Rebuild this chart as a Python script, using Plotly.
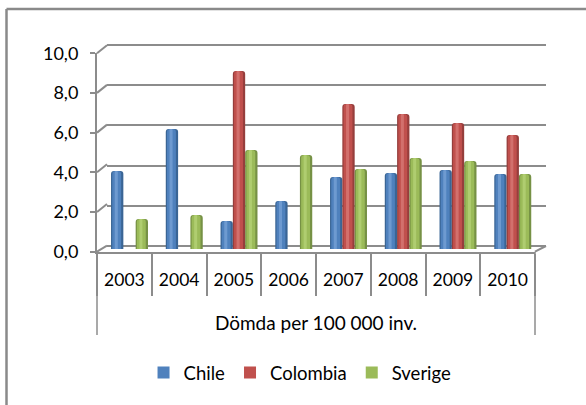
import plotly.graph_objects as go

years = ["2003", "2004", "2005", "2006", "2007", "2008", "2009", "2010"]
chile = [3.9, 6.0, 1.4, 2.4, 3.6, 3.8, 3.95, 3.75]
colombia = [None, None, 8.9, None, 7.25, 6.75, 6.3, 5.7]
sverige = [1.5, 1.7, 4.95, 4.7, 4.0, 4.55, 4.4, 3.75]
series = [("Chile", chile, "#4F81BD", "#3A6595", "#6E9AD0", -0.335),
          ("Colombia", colombia, "#C0504D", "#963E3C", "#D2706D", -0.11),
          ("Sverige", sverige, "#9BBB59", "#769145", "#AFCD70", 0.115)]

W, H = 586, 405
FONT = "Lato"
GREY = "#8C8C8C"
def fx(p): return p / W
def fy(p): return 1 - p / H

fig = go.Figure()
fig.add_trace(go.Scatter(x=[0], y=[0], mode="markers", marker=dict(opacity=0),
                         showlegend=False, hoverinfo="skip", xaxis="x", yaxis="y"))
fig.add_trace(go.Bar(x=years, y=[0] * 8, showlegend=False, hoverinfo="skip",
                     marker=dict(opacity=0), xaxis="x2", yaxis="y2"))
BW = 0.225
for name, vals, col, dark, light, off in series:
    fig.add_trace(go.Bar(x=years, y=vals, width=BW, offset=off, showlegend=False, hoverinfo="skip",
                         marker=dict(color=dark, cornerradius=3, line_width=0), xaxis="x3", yaxis="y3"))
    fig.add_trace(go.Bar(x=years, y=vals, width=BW * 0.72, offset=off + BW * 0.1, showlegend=False,
                         hoverinfo="skip", marker=dict(color=col, cornerradius=3, line_width=0),
                         xaxis="x3", yaxis="y3"))
    # square-topped inner bar carries the legend swatch
    fig.add_trace(go.Bar(x=years, y=vals, name=name, width=BW * 0.25, offset=off + BW * 0.3,
                         showlegend=True, marker=dict(color=col, line_width=0),
                         xaxis="x3", yaxis="y3"))
    fig.add_trace(go.Bar(x=years, y=vals, width=BW * 0.25, offset=off + BW * 0.3, showlegend=False,
                         hoverinfo="skip", marker=dict(color=light, cornerradius=2, line_width=0),
                         xaxis="x3", yaxis="y3"))

def line(x0, y0, x1, y1, w=2, c=GREY):
    return dict(type="line", xref="paper", yref="paper", x0=fx(x0), y0=fy(y0), x1=fx(x1), y1=fy(y1),
                line=dict(color=c, width=w), layer="below")

shapes = [line(6.5, 9, 586, 9, 2.5, "#8A8A8A"), line(6.5, 9, 6.5, 405, 2.5, "#8A8A8A")]
for i in range(6):
    yf = 251.7 - i * 39.7
    shapes.append(line(97, yf, 107, yf - 6 if i == 0 else yf - 8))
shapes.append(line(535, 251.7, 546, 246))
shapes.append(line(97, 251.7, 97, 335, 1.5))
shapes.append(line(535, 251.7, 535, 335, 1.5))

fig.update_layout(
    width=W, height=H, autosize=False, margin=dict(l=0, r=0, t=0, b=0, autoexpand=False),
    paper_bgcolor="white", plot_bgcolor="rgba(0,0,0,0)", barmode="overlay",
    separators=",.", font=dict(family=FONT, size=16, color="black"), shapes=shapes,
    xaxis=dict(domain=[fx(107), fx(546)], range=[0, 1], visible=False, anchor="y"),
    yaxis=dict(domain=[fy(250), fy(41)], range=[-0.2, 10.2], dtick=2, showgrid=True, gridcolor=GREY, gridwidth=2,
               zeroline=False, showticklabels=False, ticks="", anchor="x"),
    xaxis2=dict(domain=[fx(97), fx(535)], type="category", categoryorder="array", categoryarray=years,
                range=[-0.5, 7.5], anchor="y2", showline=True, linecolor=GREY, linewidth=2,
                tickson="boundaries", ticks="outside", ticklen=42, tickcolor=GREY, tickwidth=1.5,
                ticklabelstandoff=11, tickfont=dict(size=17.5), showgrid=False,
                title=dict(text="Dömda per 100 000 inv.", standoff=28, font=dict(size=19))),
    yaxis2=dict(domain=[fy(251.7), fy(53.3)], range=[0, 10], dtick=2, tickformat=".1f", anchor="x2",
                showline=True, linecolor=GREY, linewidth=2, ticks="outside", ticklen=5, tickcolor=GREY,
                tickwidth=2, showgrid=False, zeroline=False, tickfont=dict(size=18), ticklabelstandoff=8),
    xaxis3=dict(domain=[fx(102), fx(540)], type="category", categoryorder="array", categoryarray=years,
                range=[-0.5, 7.5], anchor="y3", visible=False),
    yaxis3=dict(domain=[fy(249), fy(49)], range=[0, 10], anchor="x3", visible=False),
    legend=dict(orientation="h", x=0.512, y=fy(373), xanchor="center", yanchor="middle",
                font=dict(size=18.5), traceorder="normal", itemwidth=30, bgcolor="rgba(0,0,0,0)"),
)
fig.write_html("out.html", post_script="document.body.style.margin='0';",
               config={"displayModeBar": False})
